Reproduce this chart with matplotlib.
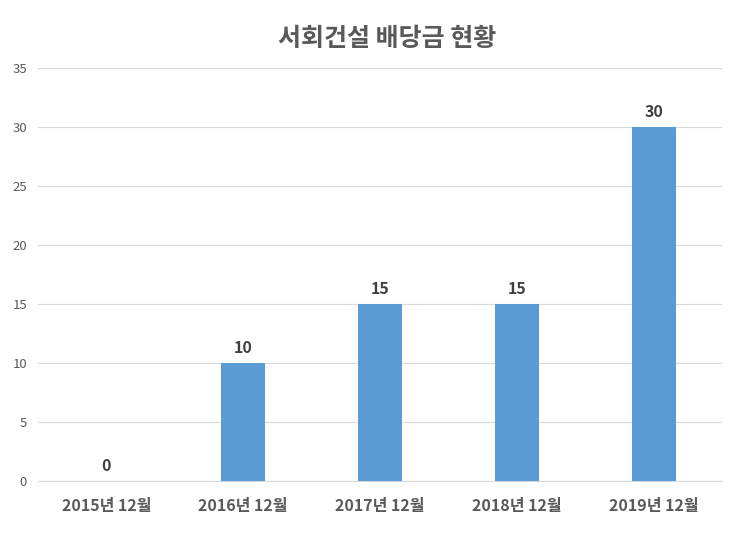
import matplotlib.pyplot as plt
import numpy as np

plt.rcParams['font.family'] = ['Noto Sans CJK KR', 'DejaVu Sans']

categories = ['2015년 12월', '2016년 12월', '2017년 12월', '2018년 12월', '2019년 12월']
dividends = [0, 10, 15, 15, 30]
yticks = [0, 5, 10, 15, 20, 25, 30, 35]

fig = plt.figure(figsize=(7.4, 5.35), dpi=100)
ax = fig.add_axes([0.0514, 0.1009, 0.9243, 0.772])

x = np.arange(len(categories))
ax.bar(x, dividends, width=0.32, color='#5B9BD5', zorder=3)

for xi, v in zip(x, dividends):
    ax.text(xi, v + 0.6, str(v), ha='center', va='bottom', fontsize=11.5,
            fontweight='bold', color='#404040')

ax.set_xlim(-0.5, len(categories) - 0.5)
ax.set_ylim(0, 35)
ax.set_yticks(yticks)
ax.set_yticklabels([str(t) for t in yticks], color='#595959', fontsize=9.5)
ax.set_xticks(x)
ax.set_xticklabels(categories, fontsize=11.5, fontweight='bold', color='#595959')
ax.tick_params(axis='both', length=0)
ax.tick_params(axis='x', pad=12)
ax.tick_params(axis='y', pad=8)

ax.grid(axis='y', color='#D9D9D9', linewidth=0.8, zorder=0)
for s in ['top', 'right', 'left']:
    ax.spines[s].set_visible(False)
ax.spines['bottom'].set_color('#D9D9D9')

fig.text(0.523, 0.927, '서회건설 배당금 현황', ha='center', va='center',
         fontsize=18, fontweight='bold', color='#595959')

fig.savefig('out.png', dpi=100)
